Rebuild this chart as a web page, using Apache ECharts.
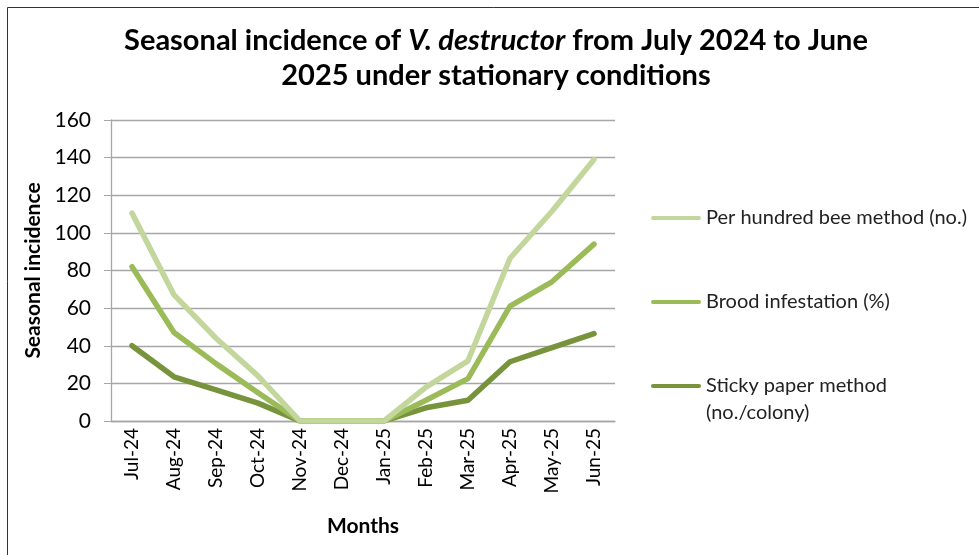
<!DOCTYPE html>
<html>
<head>
<meta charset="utf-8">
<script src="https://cdn.jsdelivr.net/npm/echarts@6/dist/echarts.min.js"></script>
<style>
  html, body { margin: 0; padding: 0; background: #fff; }
  #chart { width: 979px; height: 555px; }
</style>
</head>
<body>
<div id="chart"></div>
<script>
// months on the x axis
var months = ['Jul-24', 'Aug-24', 'Sep-24', 'Oct-24', 'Nov-24', 'Dec-24',
              'Jan-25', 'Feb-25', 'Mar-25', 'Apr-25', 'May-25', 'Jun-25']

// values
var perHundredBee = [110.5, 67, 44, 24, 0, 0, 0, 18, 32, 86.5, 111.5, 139]
var broodInfestation = [82, 47, 30.5, 15, 0, 0, 0, 11, 22.5, 61, 74, 94]
var stickyPaper = [40, 23.5, 16.5, 9.5, 0, 0, 0, 7, 11, 31.5, 39, 46.5]

var yTicks = [0, 20, 40, 60, 80, 100, 120, 140, 160]

var seriesNames = ['Per hundred bee method (no.)', 'Brood infestation (%)', 'Sticky paper method (no./colony)']
var colors = ['#c3d69b', '#9bbb59', '#77933c']

var font = 'Lato, Calibri, sans-serif'

var myChart = echarts.init(document.getElementById('chart'))

function legendFor(i, top, fmt) {
    var l = {
        data: [seriesNames[i]],
        left: 646,
        top: top,
        orient: 'vertical',
        itemWidth: 50,
        itemHeight: 14,
        selectedMode: false,
        icon: 'path://M2,5 L48,5 A2,2 0 0 1 48,9 L2,9 A2,2 0 0 1 2,5 Z',
        textStyle: { fontFamily: font, fontSize: 20, color: '#222', lineHeight: 27 }
    }
    if (fmt) l.formatter = fmt
    return l
}

var option = {
    backgroundColor: '#fff',
    animation: false,
    title: {
        text: 'Seasonal incidence of {i|V. destructor} from July 2024 to June\n2025 under stationary conditions',
        left: 491,
        textAlign: 'center',
        top: 18,
        textStyle: {
            fontFamily: font,
            fontSize: 29,
            fontWeight: 'bold',
            color: '#000',
            lineHeight: 35,
            rich: {
                i: { fontFamily: font, fontSize: 29, fontWeight: 'bold', fontStyle: 'italic', color: '#000', lineHeight: 35 }
            }
        }
    },
    legend: [
        legendFor(0, 199.5),
        legendFor(1, 283.5),
        legendFor(2, 340.5, function () { return '\u00a0\nSticky paper method\n(no./colony)' })
    ],
    grid: { left: 111, top: 120, right: 364, bottom: 134, containLabel: false },
    xAxis: {
        type: 'category',
        data: months,
        boundaryGap: true,
        name: 'Months',
        nameLocation: 'middle',
        nameGap: 95,
        nameTextStyle: { fontFamily: font, fontSize: 21, fontWeight: 'bold', color: '#000' },
        axisLine: { lineStyle: { color: '#a6a6a6', width: 1.3 } },
        axisTick: { show: false },
        axisLabel: { rotate: 90, fontFamily: font, fontSize: 19, color: '#000', margin: 7 }
    },
    yAxis: {
        type: 'value',
        min: 0,
        max: 160,
        interval: 20,
        name: 'Seasonal incidence',
        nameLocation: 'middle',
        nameGap: 63,
        nameTextStyle: { fontFamily: font, fontSize: 21, fontWeight: 'bold', color: '#000' },
        axisLine: { show: true, lineStyle: { color: '#a6a6a6', width: 1.3 } },
        axisTick: { show: true, length: 7, lineStyle: { color: '#a6a6a6' } },
        splitLine: { lineStyle: { color: '#a6a6a6', width: 1.3 } },
        axisLabel: {
            fontFamily: font, fontSize: 21, color: '#000', margin: 20,
            formatter: function (v) { return yTicks.indexOf(v) >= 0 ? String(v) : '' }
        }
    },
    series: [
        { name: seriesNames[0], type: 'line', data: perHundredBee },
        { name: seriesNames[1], type: 'line', data: broodInfestation },
        { name: seriesNames[2], type: 'line', data: stickyPaper }
    ].map(function (s, i) {
        s.color = colors[i]
        s.showSymbol = false
        s.symbol = 'none'
        s.lineStyle = { width: 5.5, color: colors[i], cap: 'round', join: 'round' }
        s.z = 10 - i
        return s
    }),
    graphic: [{
        type: 'rect',
        shape: { x: 7.5, y: 7.5, width: 1000, height: 600 },
        style: { fill: 'none', stroke: '#333', lineWidth: 1 },
        silent: true
    }]
}

myChart.setOption(option)
</script>
</body>
</html>
